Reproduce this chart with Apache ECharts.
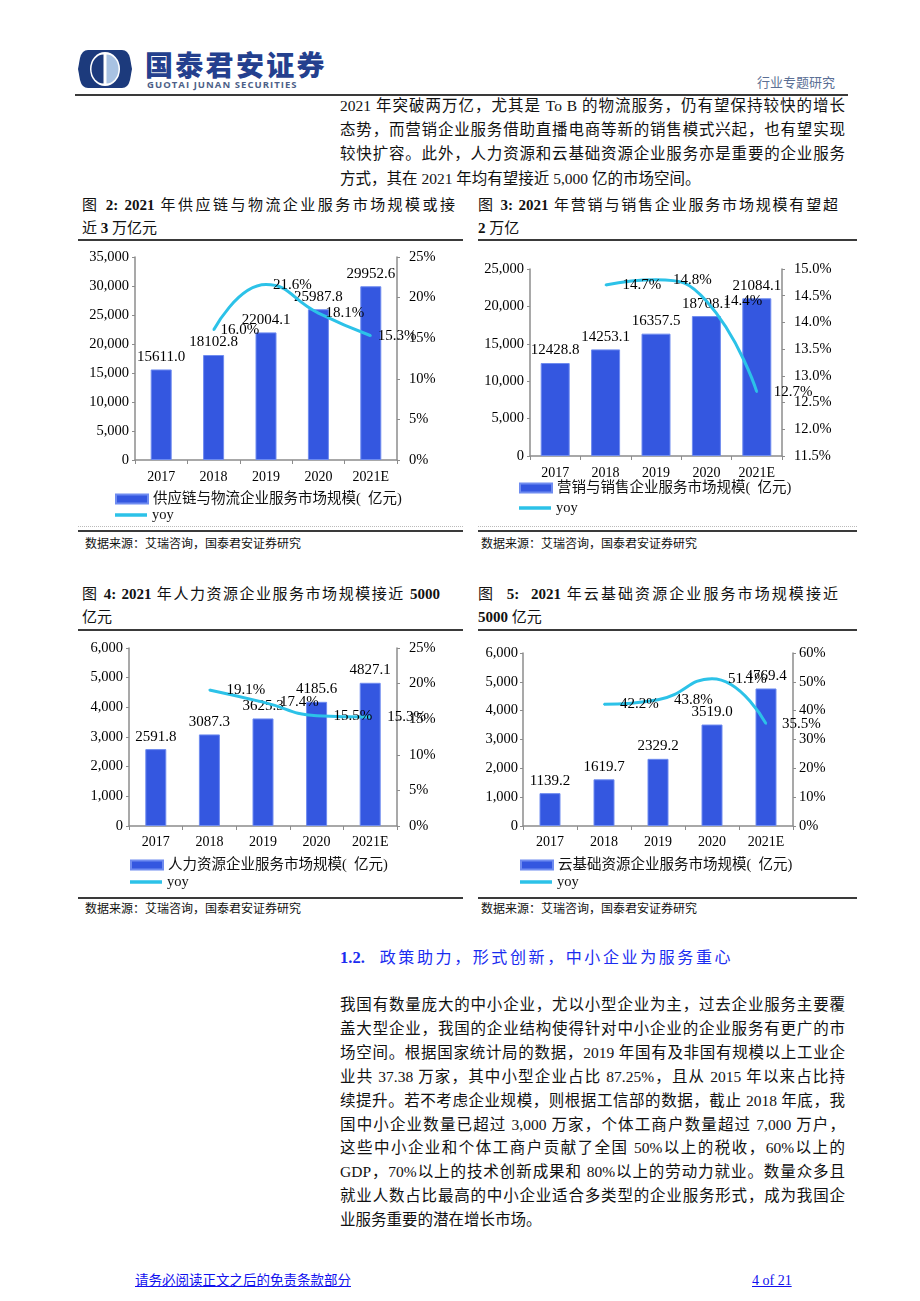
<!DOCTYPE html>
<html>
<head>
<meta charset="utf-8">
<script src="https://cdn.jsdelivr.net/npm/echarts@6.0.0/dist/echarts.min.js"></script>
<style>
  html,body{margin:0;padding:0;background:#fff;}
  body{width:920px;height:1301px;position:relative;overflow:hidden;
       font-family:"Liberation Serif","Noto Sans CJK SC",serif;color:#111;}
  .abs{position:absolute;}
  .ln{position:absolute;height:24px;line-height:24px;font-size:15.5px;color:#111;}
  .j{text-align:justify;text-align-last:justify;}
  .ft{position:absolute;height:22px;line-height:22px;font-size:15px;color:#111;}
  .src{position:absolute;height:16px;line-height:16px;font-size:12px;color:#111;}
  .hr{position:absolute;height:2px;background:#3a3a3a;}
  .dot{position:absolute;height:0;border-top:1px dotted #bbb;}
  .chart{position:absolute;}
</style>
</head>
<body>

<!-- header -->
<svg class="abs" style="left:78px;top:50px" width="54" height="38" viewBox="0 0 54 38">
  <path d="M10,0 L44,0 Q50,0 52,8 L54,19 L52,30 Q50,38 44,38 L10,38 Q4,38 2,30 L0,19 L2,8 Q4,0 10,0 Z" fill="#1c3a7c"/>
  <ellipse cx="27" cy="19" rx="15" ry="17" fill="#ffffff"/>
  <path d="M25.5,4.5 A12,14.5 0 0 0 25.5,33.5 Z" fill="#1c3a7c"/>
  <path d="M28.5,4.5 A12,14.5 0 0 1 28.5,33.5 Z" fill="#a8c2e2"/>
</svg>
<div class="abs" style="left:145px;top:48px;font-family:'Noto Sans CJK SC';font-weight:900;font-size:28px;letter-spacing:2.3px;color:#24408e;line-height:32px;">国泰君安证券</div>
<div class="abs" style="left:147px;top:79px;font-family:'Open Sans','DejaVu Sans';font-weight:700;font-size:9.5px;letter-spacing:1.05px;color:#4d5f88;line-height:11px;">GUOTAI JUNAN SECURITIES</div>
<div class="abs" style="left:757px;top:74px;font-family:'Noto Sans CJK SC';font-size:13px;color:#5b6f95;line-height:16px;">行业专题研究</div>
<div class="hr" style="left:75px;top:94px;width:773px;"></div>

<!-- paragraph 1 -->
<div class="ln j" style="left:340px;top:94px;width:505px;">2021 年突破两万亿，尤其是 To B 的物流服务，仍有望保持较快的增长</div>
<div class="ln j" style="left:340px;top:118px;width:505px;">态势，而营销企业服务借助直播电商等新的销售模式兴起，也有望实现</div>
<div class="ln j" style="left:340px;top:142px;width:505px;">较快扩容。此外，人力资源和云基础资源企业服务亦是重要的企业服务</div>
<div class="ln" style="left:340px;top:167px;width:505px;">方式，其在 2021 年均有望接近 5,000 亿的市场空间。</div>

<!-- figure 2 / 3 titles -->
<div class="ft j" style="left:82px;top:194px;width:373px;">图 <b>2:</b> <b>2021</b> 年供应链与物流企业服务市场规模或接</div>
<div class="ft" style="left:82px;top:217px;width:373px;">近 <b>3</b> 万亿元</div>
<div class="ft j" style="left:478px;top:194px;width:360px;">图 <b>3:</b> <b>2021</b> 年营销与销售企业服务市场规模有望超</div>
<div class="ft" style="left:478px;top:217px;width:360px;"><b>2</b> 万亿</div>
<div class="hr" style="left:78px;top:239px;width:385px;"></div>
<div class="hr" style="left:478px;top:239px;width:379px;"></div>

<div id="c2" class="chart" style="left:78px;top:243px;width:385px;height:285px;"></div>
<div id="c3" class="chart" style="left:478px;top:243px;width:379px;height:285px;"></div>

<div class="dot" style="left:78px;top:526px;width:385px;"></div>
<div class="dot" style="left:478px;top:526px;width:379px;"></div>
<div class="hr" style="left:78px;top:530px;width:385px;"></div>
<div class="hr" style="left:478px;top:530px;width:379px;"></div>
<div class="src" style="left:85px;top:536px;">数据来源：艾瑞咨询，国泰君安证券研究</div>
<div class="src" style="left:481px;top:536px;">数据来源：艾瑞咨询，国泰君安证券研究</div>

<!-- figure 4 / 5 titles -->
<div class="ft j" style="left:82px;top:583px;width:358px;">图 <b>4:</b> <b>2021</b> 年人力资源企业服务市场规模接近 <b>5000</b></div>
<div class="ft" style="left:82px;top:606px;width:373px;">亿元</div>
<div class="ft j" style="left:478px;top:583px;width:360px;">图 &nbsp;<b>5:</b> &nbsp;<b>2021</b> 年云基础资源企业服务市场规模接近</div>
<div class="ft" style="left:478px;top:606px;width:360px;"><b>5000</b> 亿元</div>
<div class="hr" style="left:78px;top:629px;width:385px;"></div>
<div class="hr" style="left:478px;top:629px;width:379px;"></div>

<div id="c4" class="chart" style="left:78px;top:633px;width:385px;height:263px;"></div>
<div id="c5" class="chart" style="left:478px;top:633px;width:379px;height:263px;"></div>

<div class="hr" style="left:78px;top:897px;width:385px;"></div>
<div class="hr" style="left:478px;top:897px;width:379px;"></div>
<div class="src" style="left:85px;top:901px;">数据来源：艾瑞咨询，国泰君安证券研究</div>
<div class="src" style="left:481px;top:901px;">数据来源：艾瑞咨询，国泰君安证券研究</div>

<!-- section heading -->
<div class="abs" style="left:340px;top:946px;line-height:24px;font-size:16px;color:#1a2cf0;white-space:nowrap;">
  <b style="font-family:'Liberation Serif';font-size:16.5px;">1.2.</b><span style="display:inline-block;width:15px;"></span><span style="letter-spacing:2.6px;">政策助力，形式创新，中小企业为服务重心</span>
</div>

<!-- paragraph 2 -->
<div class="ln j" style="left:340px;top:993px;width:505px;">我国有数量庞大的中小企业，尤以小型企业为主，过去企业服务主要覆</div>
<div class="ln j" style="left:340px;top:1017px;width:505px;">盖大型企业，我国的企业结构使得针对中小企业的企业服务有更广的市</div>
<div class="ln j" style="left:340px;top:1041px;width:505px;">场空间。根据国家统计局的数据，2019 年国有及非国有规模以上工业企</div>
<div class="ln j" style="left:340px;top:1065px;width:505px;">业共 37.38 万家，其中小型企业占比 87.25%，且从 2015 年以来占比持</div>
<div class="ln j" style="left:340px;top:1089px;width:505px;">续提升。若不考虑企业规模，则根据工信部的数据，截止 2018 年底，我</div>
<div class="ln j" style="left:340px;top:1113px;width:505px;">国中小企业数量已超过 3,000 万家，个体工商户数量超过 7,000 万户，</div>
<div class="ln j" style="left:340px;top:1136px;width:505px;">这些中小企业和个体工商户贡献了全国 50%以上的税收，60%以上的</div>
<div class="ln j" style="left:340px;top:1160px;width:505px;">GDP，70%以上的技术创新成果和 80%以上的劳动力就业。数量众多且</div>
<div class="ln j" style="left:340px;top:1184px;width:505px;">就业人数占比最高的中小企业适合多类型的企业服务形式，成为我国企</div>
<div class="ln" style="left:340px;top:1208px;width:505px;">业服务重要的潜在增长市场。</div>

<!-- footer -->
<div class="abs" style="left:135px;top:1272px;font-size:13.5px;line-height:18px;color:#1010ee;text-decoration:underline;">请务必阅读正文之后的免责条款部分</div>
<div class="abs" style="left:752px;top:1272px;font-size:14px;line-height:18px;color:#1010ee;text-decoration:underline;">4 of 21</div>

<script>
// ---------- data ----------
const categories = ['2017', '2018', '2019', '2020', '2021E'];

const supplyName = '供应链与物流企业服务市场规模(  亿元)';
const supplyValues = [15611.0, 18102.8, 22004.1, 25987.8, 29952.6];
const supplyYoy = [null, 16.0, 21.6, 18.1, 15.3];

const marketingName = '营销与销售企业服务市场规模(  亿元)';
const marketingValues = [12428.8, 14253.1, 16357.5, 18708.1, 21084.1];
const marketingYoy = [null, 14.7, 14.8, 14.4, 12.7];

const hrName = '人力资源企业服务市场规模(  亿元)';
const hrValues = [2591.8, 3087.3, 3625.3, 4185.6, 4827.1];
const hrYoy = [null, 19.1, 17.4, 15.5, 15.3];

const cloudName = '云基础资源企业服务市场规模(  亿元)';
const cloudValues = [1139.2, 1619.7, 2329.2, 3519.0, 4769.4];
const cloudYoy = [null, 42.2, 43.8, 51.1, 35.5];

const yoyName = 'yoy';

// ---------- styling ----------
const FONT = '"Liberation Serif", "Noto Sans CJK SC", serif';
const BAR_COLOR = '#3457e0';
const LINE_COLOR = '#2cc2e8';
const AXIS_COLOR = '#8c8c8c';

function build(el, barName, bars, yoy, L) {
  const chart = echarts.init(document.getElementById(el), null, { renderer: 'canvas' });
  const legendText = { fontFamily: FONT, fontSize: 14.5, color: '#111', lineHeight: 16 };
  chart.setOption({
    animation: false,
    textStyle: { fontFamily: FONT },
    grid: { left: L.left, right: L.right, top: L.top, bottom: L.bottom, containLabel: false },
    legend: [
      {
        orient: 'horizontal', left: L.legLeft, top: L.legTop, padding: 0,
        itemWidth: 32, itemHeight: 9, textStyle: legendText,
        data: [{ name: barName, icon: 'rect' }]
      },
      {
        orient: 'horizontal', left: L.legLeft, top: L.legTop + L.legStep, padding: 0,
        itemWidth: 32, itemHeight: 3.5, textStyle: legendText,
        data: [{ name: yoyName, icon: 'rect' }]
      }
    ],
    xAxis: {
      type: 'category', data: categories,
      axisLine: { lineStyle: { color: AXIS_COLOR, width: 1.5 } },
      axisTick: { show: true, length: 4, lineStyle: { color: AXIS_COLOR } },
      axisLabel: { color: '#000', fontSize: 14, margin: L.xMargin, fontFamily: FONT }
    },
    yAxis: [
      {
        type: 'value', min: L.lMin, max: L.lMax, interval: L.lInt,
        axisLine: { show: true, lineStyle: { color: AXIS_COLOR, width: 1.5 } },
        axisTick: { show: true, length: 3, lineStyle: { color: AXIS_COLOR } },
        splitLine: { show: false },
        axisLabel: { color: '#000', fontSize: 14.5, margin: L.lMargin, fontFamily: FONT,
          formatter: v => v.toLocaleString('en-US') }
      },
      {
        type: 'value', position: 'right', min: L.rMin, max: L.rMax, interval: L.rInt,
        axisLine: { show: true, lineStyle: { color: AXIS_COLOR, width: 1.5 } },
        axisTick: { show: true, length: 3, lineStyle: { color: AXIS_COLOR } },
        splitLine: { show: false },
        axisLabel: { color: '#000', fontSize: 14.5, margin: L.rMargin, fontFamily: FONT,
          formatter: v => (L.rDec ? v.toFixed(L.rDec) : String(Math.round(v))) + '%' }
      }
    ],
    series: [
      {
        name: barName, type: 'bar', data: bars, barWidth: L.barWidth, yAxisIndex: 0,
        itemStyle: { color: BAR_COLOR, borderColor: '#6f8cf0', borderWidth: 1 },
        label: { show: true, position: 'top', distance: 5, color: '#000', fontSize: 15,
          fontFamily: FONT, formatter: p => p.value.toFixed(1) }
      },
      {
        name: yoyName, type: 'line', data: yoy, yAxisIndex: 1, smooth: 0.5,
        symbol: 'circle', symbolSize: 2, showSymbol: true,
        lineStyle: { color: LINE_COLOR, width: 3 },
        itemStyle: { color: LINE_COLOR },
        label: { show: true, position: 'right', distance: L.lineDist, color: '#000', fontSize: 15,
          fontFamily: FONT, formatter: p => (p.value == null ? '' : p.value.toFixed(1) + '%') }
      }
    ]
  });
}

build('c2', supplyName, supplyValues, supplyYoy, {
  left: 57, right: 66, top: 14, bottom: 68,
  lMin: 0, lMax: 35000, lInt: 5000, rMin: 0, rMax: 25, rInt: 5, rDec: 0,
  lMargin: 6, rMargin: 12, xMargin: 10, barWidth: 21, lineDist: 6,
  legLeft: 37, legTop: 248, legStep: 16
});
build('c3', marketingName, marketingValues, marketingYoy, {
  left: 52, right: 75, top: 26, bottom: 72,
  lMin: 0, lMax: 25000, lInt: 5000, rMin: 11.5, rMax: 15, rInt: 0.5, rDec: 1,
  lMargin: 6, rMargin: 12, xMargin: 10, barWidth: 29, lineDist: 16,
  legLeft: 41, legTop: 237, legStep: 20
});
build('c4', hrName, hrValues, hrYoy, {
  left: 51, right: 66, top: 15, bottom: 70,
  lMin: 0, lMax: 6000, lInt: 1000, rMin: 0, rMax: 25, rInt: 5, rDec: 0,
  lMargin: 6, rMargin: 12, xMargin: 9, barWidth: 21, lineDist: 16,
  legLeft: 52, legTop: 224, legStep: 17
});
build('c5', cloudName, cloudValues, cloudYoy, {
  left: 45, right: 64, top: 20, bottom: 70,
  lMin: 0, lMax: 6000, lInt: 1000, rMin: 0, rMax: 60, rInt: 10, rDec: 0,
  lMargin: 5, rMargin: 6, xMargin: 9, barWidth: 21, lineDist: 15,
  legLeft: 42, legTop: 224, legStep: 17
});
</script>
</body>
</html>
